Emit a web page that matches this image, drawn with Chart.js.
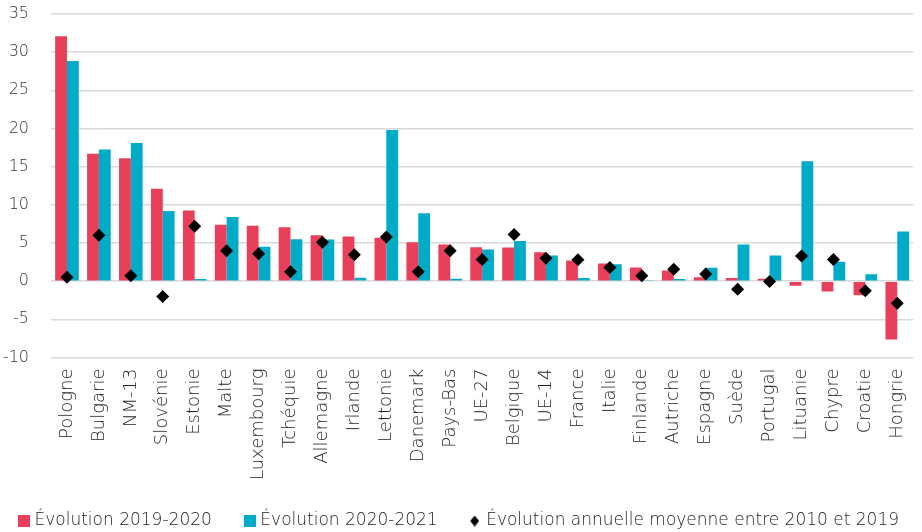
<!DOCTYPE html>
<html lang="fr">
<head>
    <meta charset="UTF-8" />
    <title>Évolution par pays</title>
    <script src="https://cdn.jsdelivr.net/npm/chart.js"></script>
    <style>
        html, body { margin: 0; padding: 0; background: #fff; }
        #chartContainer { width: 922px; height: 532px; }
    </style>
</head>
<body>
<div id="chartContainer">
    <canvas id="myChart"></canvas>
</div>
<script>
    // Data
    const pays = ['Pologne', 'Bulgarie', 'NM-13', 'Slovénie', 'Estonie', 'Malte', 'Luxembourg',
        'Tchéquie', 'Allemagne', 'Irlande', 'Lettonie', 'Danemark', 'Pays-Bas', 'UE-27',
        'Belgique', 'UE-14', 'France', 'Italie', 'Finlande', 'Autriche', 'Espagne', 'Suède',
        'Portugal', 'Lituanie', 'Chypre', 'Croatie', 'Hongrie'];
    const evol2019_2020 = [32.1, 16.7, 16.1, 12.1, 9.25, 7.4, 7.25, 7.05, 6.0, 5.85, 5.7, 5.1, 4.8, 4.45,
        4.4, 3.8, 2.7, 2.3, 1.8, 1.4, 0.5, 0.42, 0.33, -0.6, -1.35, -1.85, -7.65];
    const evol2020_2021 = [28.85, 17.25, 18.1, 9.2, 0.3, 8.4, 4.5, 5.5, 5.45, 0.45, 19.8, 8.9, 0.33, 4.15,
        5.25, 3.35, 0.4, 2.2, 0.05, 0.3, 1.75, 4.8, 3.35, 15.7, 2.55, 0.9, 6.5];
    const evolMoyenne2010_2019 = [0.5, 6.0, 0.7, -2.0, 7.2, 4.0, 3.6, 1.25, 5.1, 3.45, 5.8, 1.25, 4.0, 2.85,
        6.1, 3.0, 2.8, 1.8, 0.7, 1.55, 0.95, -1.05, -0.05, 3.3, 2.85, -1.25, -2.9];
    const yTicks = [-10, -5, 0, 5, 10, 15, 20, 25, 30, 35];

    const rouge = '#e8405a';
    const bleu = '#00abc8';
    const police = "'DejaVu Sans', sans-serif";

    // legend markers: small canvases, the mark sits at the right end
    function marqueur(largeur, hauteur, dessin) {
        const c = document.createElement('canvas');
        c.width = largeur;
        c.height = hauteur;
        dessin(c.getContext('2d'), largeur, hauteur);
        return c;
    }
    const carreRouge = marqueur(38, 12, (g, w, h) => { g.fillStyle = rouge; g.fillRect(w - 12, 0, 12, 12); });
    const carreBleu = marqueur(38, 12, (g, w, h) => { g.fillStyle = bleu; g.fillRect(w - 12, 0, 12, 12); });
    const losange = marqueur(33, 11, (g, w, h) => {
        g.fillStyle = '#000';
        g.beginPath();
        g.moveTo(w - 4.5, 0); g.lineTo(w, h / 2); g.lineTo(w - 4.5, h); g.lineTo(w - 9, h / 2);
        g.closePath();
        g.fill();
    });
    const marqueurs = [carreRouge, carreBleu, losange];

    Chart.defaults.font.family = police;
    Chart.defaults.color = '#333';

    const ctx = document.getElementById('myChart').getContext('2d');
    new Chart(ctx, {
        type: 'bar',
        data: {
            labels: pays,
            datasets: [
                {
                    type: 'line',
                    label: 'Évolution annuelle moyenne entre 2010 et 2019',
                    data: evolMoyenne2010_2019,
                    showLine: false,
                    pointStyle: 'rectRot',
                    pointRadius: 6.5,
                    pointHoverRadius: 6.5,
                    backgroundColor: '#000',
                    borderColor: '#000',
                    borderWidth: 0,
                    order: 0
                },
                {
                    label: 'Évolution 2019-2020',
                    data: evol2019_2020,
                    backgroundColor: rouge,
                    borderWidth: 0,
                    order: 1
                },
                {
                    label: 'Évolution 2020-2021',
                    data: evol2020_2021,
                    backgroundColor: bleu,
                    borderWidth: 0,
                    order: 1
                }
            ]
        },
        options: {
            responsive: true,
            maintainAspectRatio: false,
            animation: false,
            // negative left padding only shifts the legend; the y axis width makes up for it
            layout: { padding: { top: 14, left: -14, right: 1, bottom: -7.5 } },
            datasets: {
                bar: { categoryPercentage: 0.74, barPercentage: 1.0 }
            },
            scales: {
                x: {
                    grid: { display: false, drawTicks: true, tickLength: 8, tickColor: 'transparent' },
                    border: { display: false },
                    afterFit: (s) => { s.height = 145; },
                    ticks: {
                        autoSkip: false,
                        minRotation: 90,
                        maxRotation: 90,
                        padding: 3,
                        color: '#222',
                        font: { size: 18, weight: 300 }
                    }
                },
                y: {
                    min: -10,
                    max: 35,
                    afterFit: (s) => { s.width = 65; },
                    afterBuildTicks: (s) => { s.ticks = yTicks.map(v => ({ value: v })); },
                    grid: { color: '#d9d9d9', lineWidth: 1.5, drawTicks: true, tickLength: 20, tickColor: 'transparent' },
                    border: { display: false },
                    ticks: {
                        padding: 2,
                        color: '#333',
                        font: { size: 16, weight: 300 }
                    }
                }
            },
            plugins: {
                tooltip: { enabled: false },
                legend: {
                    position: 'bottom',
                    align: 'start',
                    labels: {
                        usePointStyle: true,
                        pointStyleWidth: 30,
                        padding: 10,
                        color: '#222',
                        font: { size: 17, weight: 300 },
                        sort: (a, b) => {
                            const rang = [2, 0, 1];
                            return rang[a.datasetIndex] - rang[b.datasetIndex];
                        },
                        generateLabels: (chart) => {
                            const base = Chart.defaults.plugins.legend.labels.generateLabels(chart);
                            base.forEach(item => {
                                const i = item.datasetIndex === 0 ? 2 : item.datasetIndex - 1;
                                item.pointStyle = marqueurs[i];
                            });
                            return base;
                        }
                    }
                }
            }
        }
    });
</script>
</body>
</html>
